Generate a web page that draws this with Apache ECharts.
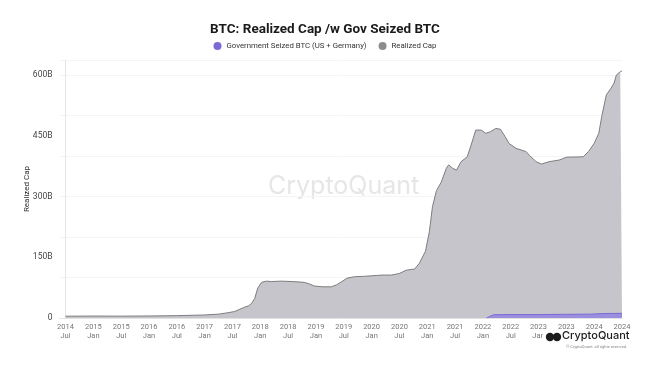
<!DOCTYPE html>
<html>
<head>
<meta charset="utf-8">
<script src="https://cdn.jsdelivr.net/npm/echarts@6/dist/echarts.min.js"></script>
<style>
html,body{margin:0;padding:0;background:#fff;}
#chart{width:650px;height:365px;}
</style>
</head>
<body>
<div id="chart"></div>
<script>
// Realized Cap (billions USD)
var capDates = ['2014-07-01','2015-01-01','2015-07-01','2016-01-01','2016-07-01','2017-01-01','2017-04-01','2017-06-01','2017-07-15','2017-08-15','2017-09-15','2017-10-15','2017-11-05','2017-11-25','2017-12-15','2018-01-10','2018-02-10','2018-03-15','2018-05-15','2018-08-01','2018-10-15','2018-11-20','2018-12-20','2019-02-15','2019-04-10','2019-05-15','2019-06-20','2019-07-20','2019-09-10','2019-11-15','2020-02-01','2020-03-10','2020-03-20','2020-05-10','2020-07-01','2020-08-15','2020-10-10','2020-11-10','2020-12-20','2021-01-15','2021-02-05','2021-03-01','2021-04-01','2021-05-05','2021-05-20','2021-06-15','2021-07-10','2021-08-10','2021-09-20','2021-10-15','2021-11-15','2021-12-20','2022-01-20','2022-02-20','2022-03-25','2022-04-25','2022-05-25','2022-06-20','2022-08-05','2022-10-10','2022-11-01','2022-12-15','2023-01-20','2023-03-10','2023-05-15','2023-07-01','2023-10-20','2023-11-25','2023-12-31','2024-02-01','2024-02-20','2024-03-20','2024-04-20','2024-05-10','2024-05-25','2024-06-20','2024-07-01'];
var capValues = [4.5,4.8,4.6,5.0,5.8,7.5,9.5,13,16,21,26,30,36,48,74,88,91,90,91,90,88,84,79,77,77,82,90,98,102,103,105,106,102,106,110,118,121,135,165,213,275,315,335,370,378,370,365,386,398,427,464,464,456,460,468,466,448,431,419,411,402,386,380,386,390,397,398,411,431,456,497,551,567,580,600,608,610];
// Government Seized BTC (US + Germany), billions USD
var govDates = ['2022-01-25','2022-03-10','2022-06-01','2023-01-01','2023-06-01','2023-12-01','2024-03-01','2024-07-01'];
var govValues = [0,8,8.5,8.5,9,9.5,11,11.5];
// x-axis tick labels (half-year marks, months since 2014-07)
var tickMonths = [0,6,12,18,24,30,36,42,48,54,60,66,72,78,84,90,96,102,108,114,120];
var yTicks = [0,150,300,450,600];

function toMonth(s){
  var p = s.split('-');
  return (+p[0]-2014)*12 + (+p[1]-7) + (+p[2]-1)/30.5;
}
function pairs(d,v){ return d.map(function(x,i){return [toMonth(x), v[i]];}); }
var MON = ['Jan','Feb','Mar','Apr','May','Jun','Jul','Aug','Sep','Oct','Nov','Dec'];

var chart = echarts.init(document.getElementById('chart'), null, {renderer:'canvas'});
var FONT = 'Roboto';
chart.setOption({
  animation:false,
  backgroundColor:'#fff',
  title:{
    text:'BTC: Realized Cap /w Gov Seized BTC',
    left:'center', top:18,
    textStyle:{fontFamily:FONT, fontWeight:'bold', fontSize:13.5, color:'#1a1a1a'}
  },
  legend:{
    data:['Government Seized BTC (US + Germany)','Realized Cap'],
    top:37, left:'center',
    icon:'circle', itemWidth:8, itemHeight:8, itemGap:12, itemTextGap:4,
    textStyle:{fontFamily:FONT, fontSize:7.8, color:'#333'}
  },
  grid:{left:59.5, right:28, top:60, bottom:47},
  xAxis:{
    type:'value', min:-1.3, max:120,
    axisLine:{show:true, lineStyle:{color:'#e2e2e2'}},
    axisTick:{show:false},
    splitLine:{show:false},
    axisLabel:{
      customValues:tickMonths,
      fontFamily:FONT, fontSize:7.5, color:'#777', lineHeight:9, margin:5,
      formatter:function(v){
        var idx = Math.round(6+v);
        return (2014+Math.floor(idx/12)) + '\n' + MON[idx%12];
      }
    }
  },
  yAxis:{
    type:'value', min:0, max:637,
    name:'Realized Cap', nameLocation:'middle', nameGap:29, nameRotate:90,
    nameMoveOverlap:false,
    nameTextStyle:{fontFamily:FONT, fontSize:8, color:'#333'},
    axisLine:{show:true, lineStyle:{color:'#e6e6e6'}},
    axisTick:{show:false},
    splitLine:{show:true, lineStyle:{color:'#f4f4f4'}},
    axisLabel:{
      customValues:yTicks,
      fontFamily:FONT, fontSize:8.5, color:'#444', margin:7,
      formatter:function(v){ return v===0 ? '0' : v+'B'; }
    }
  },
  graphic:[
    {type:'text', x:268, y:174, z:0, silent:true,
      style:{text:'CryptoQuant', fontFamily:'Inter', fontSize:25, fill:'#e6e6e6'}},
    {type:'rect', shape:{x:543, y:331, width:86, height:22}, style:{fill:'#fff'}, z:50},
    {type:'circle', shape:{cx:550, cy:337, r:4.2}, style:{fill:'#1c1c1c'}, z:51},
    {type:'circle', shape:{cx:557, cy:337, r:4.2}, style:{fill:'#1c1c1c'}, z:51},
    {type:'text', x:562, y:330.5, z:51,
      style:{text:'CryptoQuant', fontFamily:'Inter', fontSize:11, fontWeight:500, fill:'#1c1c1c'}},
    {type:'text', x:566, y:345, z:51,
      style:{text:'© CryptoQuant. all rights reserved.', fontFamily:FONT, fontSize:4, fill:'#888'}}
  ],
  series:[
    {
      name:'Realized Cap', type:'line', showSymbol:false, z:2,
      data:pairs(capDates, capValues),
      lineStyle:{color:'#7d7d7d', width:1},
      itemStyle:{color:'#8c8c8c'},
      areaStyle:{color:'#c6c5cb', opacity:1}
    },
    {
      name:'Government Seized BTC (US + Germany)', type:'line', showSymbol:false, z:3,
      data:pairs(govDates, govValues),
      lineStyle:{color:'#7b6ad6', width:1},
      itemStyle:{color:'#7b6ad6'},
      areaStyle:{color:'#9a8fde', opacity:1}
    }
  ]
});
</script>
</body>
</html>
